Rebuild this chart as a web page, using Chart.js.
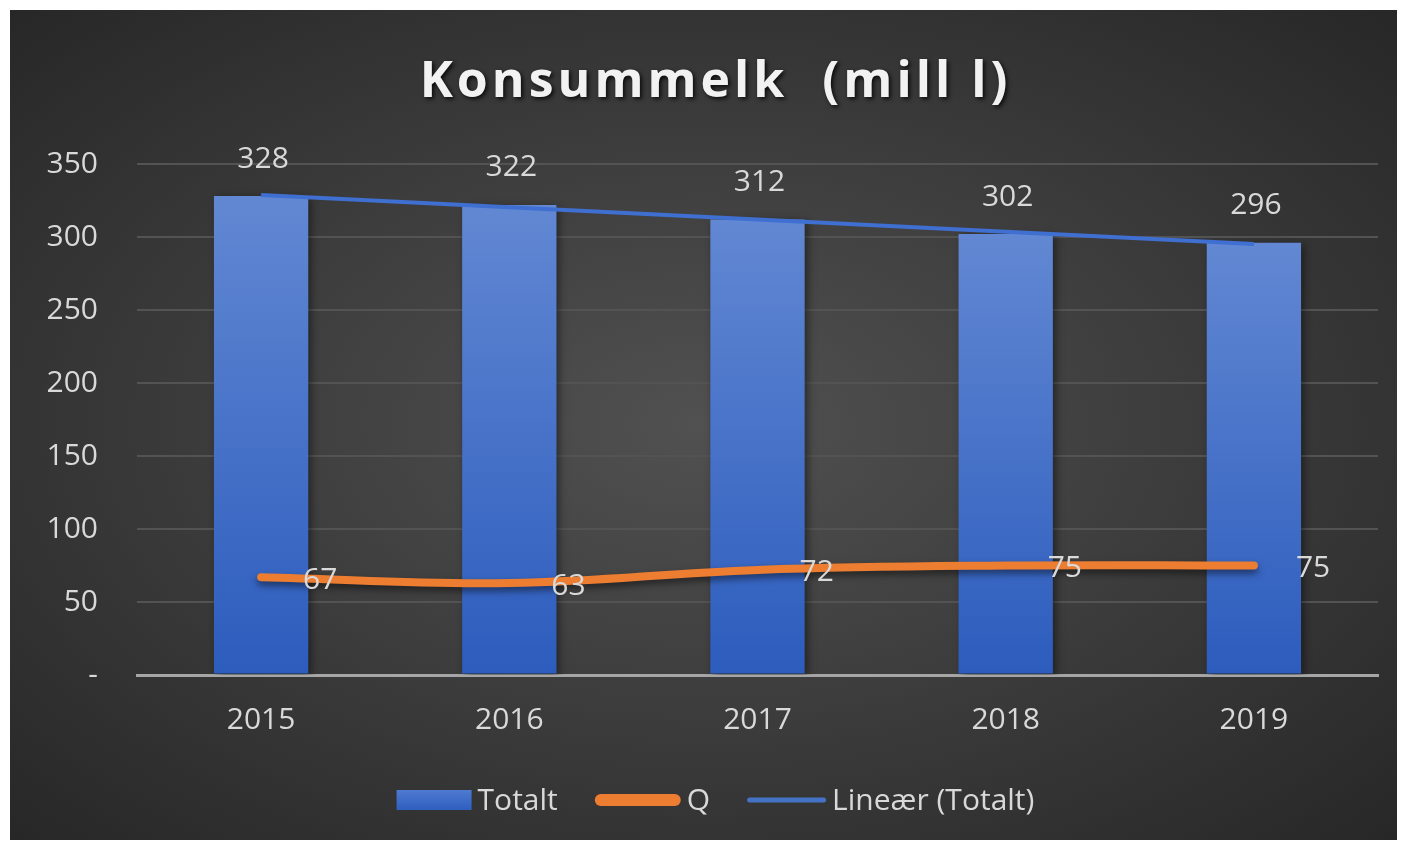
<!DOCTYPE html>
<html>
<head>
<meta charset="utf-8">
<script src="https://cdn.jsdelivr.net/npm/chart.js@4.4.0/dist/chart.umd.min.js"></script>
<style>
html, body { margin: 0; padding: 0; background: #fff; }
#wrap {
    position: absolute; left: 10px; top: 10px; width: 1387px; height: 830px;
    background: radial-gradient(ellipse farthest-corner at 50% 50%, #515151 0%, #272727 100%);
}
</style>
</head>
<body>
<div id="wrap"><canvas id="chart"></canvas></div>
<script>
var years = ['2015', '2016', '2017', '2018', '2019'];
var totalt = [328, 322, 312, 302, 296];
var q = [67, 63, 72, 75, 75];
var trend = [328.8, 320.4, 312, 303.6, 295.2];
var chartTitle = 'Konsummelk  (mill l)';
var legendNames = ['Totalt', 'Q', 'Lineær (Totalt)'];

var FONT = '"Open Sans", sans-serif';
var TEXT = '#d9d9d9';

function barGradient(c) {
    var chart = c.chart;
    if (!chart.chartArea || c.raw === undefined) return '#4472c4';
    var ys = chart.scales.y;
    var g = chart.ctx.createLinearGradient(0, ys.getPixelForValue(c.raw), 0, ys.getPixelForValue(0));
    g.addColorStop(0, '#6288d3');
    g.addColorStop(1, '#2c5cbd');
    return g;
}

// shadows under bars and the Q line
var shadowPlugin = {
    id: 'shadows',
    beforeDatasetDraw: function (chart, args) {
        var ctx = chart.ctx;
        ctx.save();
        if (args.index === 0) {
            ctx.shadowColor = 'rgba(0,0,0,0.45)';
            ctx.shadowBlur = 8;
            ctx.shadowOffsetX = 3;
            ctx.shadowOffsetY = 2;
        } else if (args.index === 1) {
            ctx.shadowColor = 'rgba(0,0,0,0.5)';
            ctx.shadowBlur = 7;
            ctx.shadowOffsetY = 4;
        }
    },
    afterDatasetDraw: function (chart) {
        chart.ctx.restore();
    }
};

// title, data labels and legend
var textPlugin = {
    id: 'texts',
    afterDatasetsDraw: function (chart) {
        var ctx = chart.ctx;
        ctx.save();
        ctx.fillStyle = TEXT;
        ctx.font = '30px ' + FONT;
        ctx.textBaseline = 'middle';

        var bars = chart.getDatasetMeta(0).data;
        ctx.textAlign = 'center';
        bars.forEach(function (b, i) {
            ctx.fillText(String(totalt[i]), b.x + 2, b.y - 37);
        });

        var pts = chart.getDatasetMeta(1).data;
        ctx.textAlign = 'left';
        pts.forEach(function (p, i) {
            ctx.fillText(String(q[i]), p.x + 42, p.y + 3);
        });
        ctx.restore();
    },
    afterDraw: function (chart) {
        var ctx = chart.ctx;
        var cx = chart.width / 2 + 12;
        ctx.save();

        // title
        ctx.font = 'bold 50px ' + FONT;
        if ('letterSpacing' in ctx) ctx.letterSpacing = '4px';
        ctx.textAlign = 'center';
        ctx.textBaseline = 'middle';
        ctx.shadowColor = 'rgba(0,0,0,0.8)';
        ctx.shadowBlur = 4;
        ctx.shadowOffsetX = 2;
        ctx.shadowOffsetY = 2;
        ctx.fillStyle = '#f2f2f2';
        ctx.fillText(chartTitle, cx, 73);
        ctx.restore();

        // legend
        ctx.save();
        ctx.font = '30px ' + FONT;
        ctx.textBaseline = 'middle';
        ctx.textAlign = 'left';
        var symW = [75, 86, 79];
        var gap = 6, itemGap = 37;
        var widths = legendNames.map(function (n, i) { return symW[i] + gap + ctx.measureText(n).width; });
        var total = widths.reduce(function (a, b) { return a + b; }, 0) + itemGap * 2;
        var x = cx - total / 2;
        var y = 790;
        for (var i = 0; i < legendNames.length; i++) {
            if (i === 0) {
                var g = ctx.createLinearGradient(0, y - 10, 0, y + 10);
                g.addColorStop(0, '#4f7ad0');
                g.addColorStop(1, '#2e5ec0');
                ctx.fillStyle = g;
                ctx.fillRect(x, y - 10, symW[0], 20);
            } else {
                ctx.beginPath();
                ctx.lineCap = 'round';
                ctx.strokeStyle = i === 1 ? '#ed7d31' : '#4472c4';
                ctx.lineWidth = i === 1 ? 12 : 5;
                var r = ctx.lineWidth / 2;
                ctx.moveTo(x + r, y);
                ctx.lineTo(x + symW[i] - r, y);
                ctx.stroke();
            }
            ctx.fillStyle = TEXT;
            ctx.fillText(legendNames[i], x + symW[i] + gap, y + 1);
            x += widths[i] + itemGap;
        }
        ctx.restore();
    }
};

var ctxMain = document.getElementById('chart').getContext('2d');
var chart = new Chart(ctxMain, {
    type: 'bar',
    data: {
        labels: years,
        datasets: [{
            type: 'bar',
            label: legendNames[0],
            data: totalt,
            backgroundColor: barGradient,
            borderWidth: 0,
            categoryPercentage: 1,
            barPercentage: 0.38,
            order: 3
        }, {
            type: 'line',
            label: legendNames[1],
            data: q,
            borderColor: '#ed7d31',
            borderWidth: 8,
            borderCapStyle: 'round',
            borderJoinStyle: 'round',
            tension: 0.4,
            pointRadius: 0,
            fill: false,
            order: 2
        }, {
            type: 'line',
            label: legendNames[2],
            data: trend,
            borderColor: '#3f6fd0',
            borderWidth: 4,
            tension: 0,
            pointRadius: 0,
            fill: false,
            order: 1
        }]
    },
    options: {
        responsive: true,
        maintainAspectRatio: false,
        animation: false,
        layout: { padding: { top: 154, right: 19, bottom: 0, left: 0 } },
        plugins: {
            legend: { display: false },
            title: { display: false },
            tooltip: { enabled: false }
        },
        scales: {
            x: {
                offset: true,
                grid: { display: false, drawTicks: false },
                border: { display: true, color: '#a6a6a6', width: 3 },
                ticks: { color: TEXT, font: { family: FONT, size: 30 }, padding: 27 },
                afterFit: function (s) { s.height = 165; }
            },
            y: {
                min: 0,
                max: 350,
                ticks: {
                    stepSize: 50,
                    color: TEXT,
                    font: { family: FONT, size: 30 },
                    padding: 39,
                    callback: function (v) { return v === 0 ? '-' : v; }
                },
                grid: {
                    drawTicks: false,
                    color: function (c) { return c.tick && c.tick.value === 0 ? '#a6a6a6' : '#535353'; },
                    lineWidth: function (c) { return c.tick && c.tick.value === 0 ? 3 : 2; }
                },
                border: { display: false },
                afterFit: function (s) { s.width = 127; }
            }
        }
    },
    plugins: [shadowPlugin, textPlugin]
});
</script>
</body>
</html>
